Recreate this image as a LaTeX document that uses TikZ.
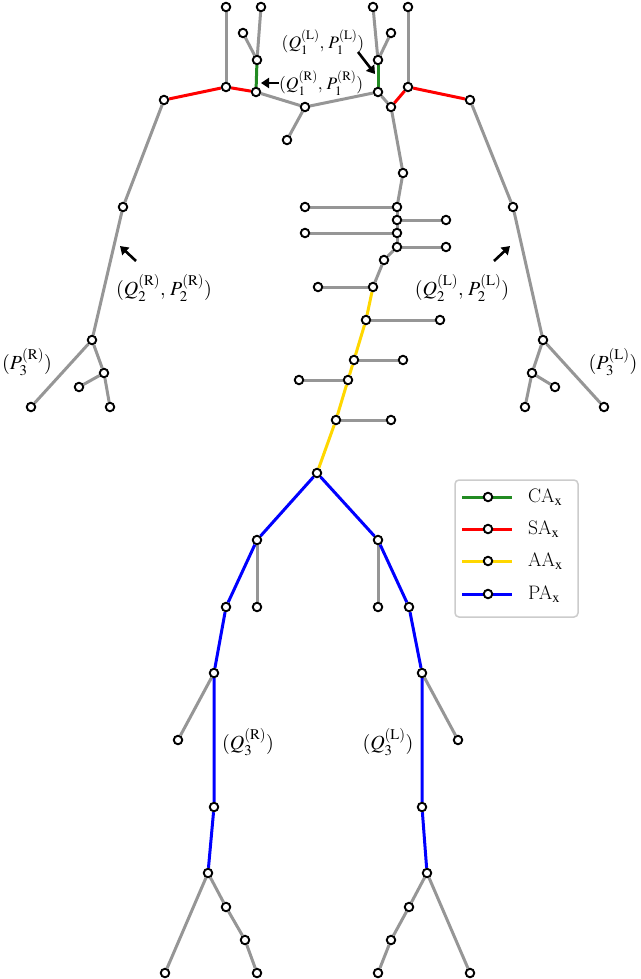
\documentclass[tikz,border=0pt]{standalone}
\usepackage{mathptmx}
\usetikzlibrary{arrows.meta}
\pgfdeclarelayer{bg}
\pgfsetlayers{bg,main}
\definecolor{bonegray}{RGB}{150,150,150}
\definecolor{cagreen}{RGB}{34,139,34}
\definecolor{sared}{RGB}{255,0,0}
\definecolor{aayellow}{RGB}{255,215,0}
\definecolor{pablue}{RGB}{0,0,255}
\definecolor{legframe}{RGB}{204,204,204}
\tikzset{
  jt/.style={circle,draw=black,fill=white,line width=1.9pt,minimum size=8.5pt,inner sep=0pt},
  bone/.style={draw=bonegray,line width=3pt},
  cabone/.style={draw=cagreen,line width=3pt},
  sabone/.style={draw=sared,line width=3pt},
  aabone/.style={draw=aayellow,line width=3pt},
  pabone/.style={draw=pablue,line width=3pt},
  callout/.style={line width=2.6pt,-{Triangle[length=8pt,width=10pt]}},
  biglab/.style={inner sep=0pt,font=\fontsize{20}{24}\selectfont},
  smalllab/.style={inner sep=0pt,font=\fontsize{17.5}{21}\selectfont},
  leglab/.style={inner sep=0pt,anchor=west,font=\fontsize{19.5}{23}\selectfont},
  legbox/.style={draw=legframe,line width=1.5pt,rounded corners=4pt,fill=white}
}
\begin{document}
\begin{tikzpicture}[x=1pt,y=-1pt]
\useasboundingbox (0,0) rectangle (640,979);
% joints
\foreach \n/\x/\y in {hRa/226/7,hRb/261/7,hRc/243/33,cR/257/60,sR/226/87,nR/256/92,shR/164/100,
  cz/305/107,czb/287/140,
  hLa/373/7,hLb/408/7,hLc/391/33,cL/378/60,nL/378/92,sL/408/87,shL/470/100,
  eR/123/207,wR/92/340,wRb/104/373,wRc/79/387,wRd/110/407,wRe/31/407,
  eL/513/207,wL/543/340,wLb/532/373,wLc/555/387,wLd/525/407,wLe/604/407,
  spa/391/107,spb/403/173,spc/397/207,spd/397/220,spe/397/233,spf/397/247,spg/384/260,sph/373/287,
  spi/366/320,spj/354/360,spk/348/380,spl/336/420,pel/317/473,
  rc/305/207,rd/446/220,re/305/233,rf/446/247,rh/318/287,ri/440/320,rj/403/360,rk/299/380,rl/391/420,
  kRa/257/540,kRb/226/607,kRc/257/607,kRd/214/673,kRe/178/740,kRf/214/807,kRg/208/873,
  fRa/226/907,fRb/245/940,fRc/257/973,fRd/165/973,
  kLa/378/540,kLb/409/607,kLc/378/607,kLd/422/673,kLe/458/740,kLf/422/807,kLg/427/873,
  fLa/409/907,fLb/391/940,fLc/378/973,fLd/470/973}
  {\node[jt] (\n) at (\x,\y) {};}
\begin{pgfonlayer}{bg}
% gray bones
\foreach \a/\b in {hRa/sR,hRb/cR,hRc/cR,nR/cz,cz/czb,cz/nL,
  hLa/cL,hLc/cL,nL/spa,hLb/sL,
  shR/eR,eR/wR,wR/wRe,wR/wRb,wRb/wRc,wRb/wRd,
  shL/eL,eL/wL,wL/wLe,wL/wLb,wLb/wLc,wLb/wLd,
  spa/spb,spb/spc,spc/spd,spd/spe,spe/spf,spf/spg,spg/sph,
  rc/spc,spd/rd,re/spe,spf/rf,rh/sph,spi/ri,spj/rj,rk/spk,spl/rl,
  kRa/kRc,kRd/kRe,kRg/fRd,kRg/fRa,fRa/fRb,fRb/fRc,
  kLa/kLc,kLd/kLe,kLg/fLd,kLg/fLa,fLa/fLb,fLb/fLc}
  {\draw[bone] (\a) -- (\b);}
\draw[cabone] (cR) -- (nR);
\draw[cabone] (cL) -- (nL);
\draw[sabone] (shR) -- (sR) -- (nR);
\draw[sabone] (spa) -- (sL) -- (shL);
\draw[aabone] (sph) -- (spi) -- (spj) -- (spk) -- (spl) -- (pel);
\draw[pabone] (pel) -- (kRa) -- (kRb) -- (kRd) -- (kRf) -- (kRg);
\draw[pabone] (pel) -- (kLa) -- (kLb) -- (kLd) -- (kLf) -- (kLg);
\end{pgfonlayer}
% labels
\node[smalllab] (q1l) at (323,42) {$(Q_1^{(\mathrm{L})},\,P_1^{(\mathrm{L})})$};
\node[smalllab,anchor=west] (q1r) at (279,83) {$(Q_1^{(\mathrm{R})},\,P_1^{(\mathrm{R})})$};
\node[biglab] (q2r) at (164,288) {$(Q_2^{(\mathrm{R})},\,P_2^{(\mathrm{R})})$};
\node[biglab] (q2l) at (462,288) {$(Q_2^{(\mathrm{L})},\,P_2^{(\mathrm{L})})$};
\node[biglab] (p3r) at (27,362) {$(P_3^{(\mathrm{R})})$};
\node[biglab] (p3l) at (613,362) {$(P_3^{(\mathrm{L})})$};
\node[biglab] (q3r) at (248,742) {$(Q_3^{(\mathrm{R})})$};
\node[biglab] (q3l) at (388,742) {$(Q_3^{(\mathrm{L})})$};
% callout arrows
\coordinate (a1s) at (358,52); \coordinate (a1e) at (375,74);
\coordinate (a2s) at (279,83); \coordinate (a2e) at (261,83);
\coordinate (a3s) at (136,261); \coordinate (a3e) at (120,246);
\coordinate (a4s) at (494,261); \coordinate (a4e) at (510,246);
\draw[callout] (a1s) -- (a1e);
\draw[callout] (a2s) -- (a2e);
\draw[callout] (a3s) -- (a3e);
\draw[callout] (a4s) -- (a4e);
% legend
\node[legbox,minimum width=123pt,minimum height=137pt] (leg) at (516.5,548.5) {};
\foreach \i/\y/\sty/\txt in {1/497/cabone/CA,2/529/sabone/SA,3/561/aabone/AA,4/594/pabone/PA}{
  \coordinate (la\i) at (462,\y);
  \coordinate (lb\i) at (512,\y);
  \draw[\sty] (la\i) -- (lb\i);
  \node[jt] (lm\i) at (488,\y) {};
  \node[leglab] (lt\i) at (528,\y) {\txt$_{\mathrm{x}}$};
}
\end{tikzpicture}
\end{document}
